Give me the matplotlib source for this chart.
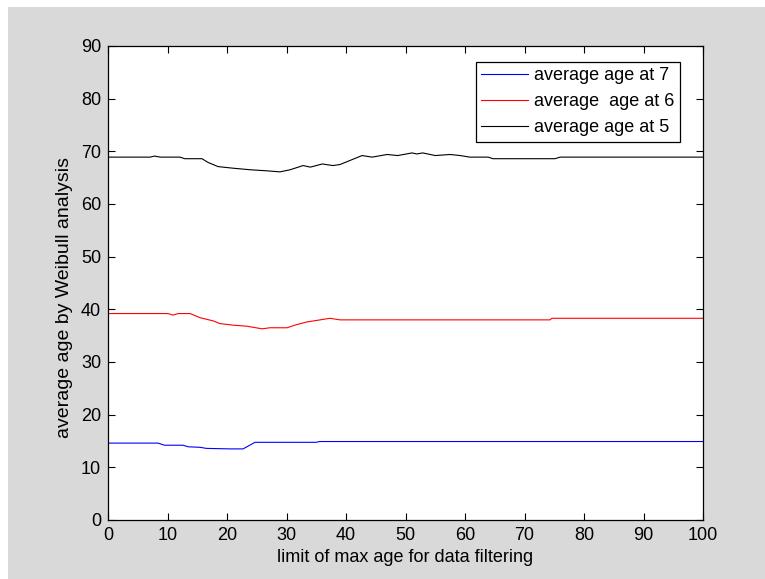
import numpy as np
import matplotlib.pyplot as plt
from matplotlib.patches import Rectangle

plt.rcParams['font.family'] = ['Liberation Sans', 'DejaVu Sans']

# filtering limit (x) and resulting Weibull average ages
x7 = [0, 8.4, 9.5, 12.6, 13.5, 15.5, 16.5, 20.5, 22.7, 24.7, 35, 35.5, 100]
age7 = [14.6, 14.6, 14.2, 14.2, 13.9, 13.8, 13.6, 13.5, 13.5, 14.75, 14.75, 14.9, 14.9]

x6 = [0, 10.1, 10.9, 11.8, 13.8, 15.5, 17.7, 18.8, 21.0, 23.3, 25.9, 27.2, 30.1,
      31.4, 33.4, 35.1, 37.3, 39.0, 74.3, 74.6, 100]
age6 = [39.2, 39.2, 38.9, 39.2, 39.2, 38.4, 37.8, 37.3, 37.0, 36.8, 36.3, 36.5, 36.5,
        37.0, 37.6, 37.9, 38.3, 38.0, 38.0, 38.3, 38.3]

x5 = [0, 7.1, 7.8, 8.8, 12.1, 12.9, 15.8, 16.8, 18.5, 21.0, 23.9, 26.7, 28.9, 30.6,
      32.8, 34.0, 36.0, 37.8, 39.0, 42.7, 44.4, 46.9, 48.7, 51.1, 51.9, 52.9, 55.0,
      57.5, 59.2, 60.8, 63.9, 64.7, 75.1, 76.0, 100]
age5 = [68.9, 68.9, 69.1, 68.9, 68.9, 68.6, 68.6, 67.9, 67.1, 66.8, 66.5, 66.3, 66.1, 66.5,
        67.3, 67.0, 67.6, 67.3, 67.5, 69.2, 68.9, 69.4, 69.2, 69.7, 69.5, 69.7, 69.2,
        69.4, 69.2, 68.9, 68.9, 68.6, 68.6, 68.9, 68.9]

fig = plt.figure(figsize=(7.65, 5.79), dpi=100, facecolor='white')
fig.patches.append(Rectangle((8 / 765, 0), 1, 1 - 7 / 579, transform=fig.transFigure,
                             facecolor='#d9d9d9', edgecolor='none', zorder=-1))

ax = fig.add_axes([108 / 765, 59 / 579, 595 / 765, 474 / 579])
ax.plot(x7, age7, color='blue', lw=0.8, label='average age at 7')
ax.plot(x6, age6, color='red', lw=0.8, label='average  age at 6')
ax.plot(x5, age5, color='black', lw=0.8, label='average age at 5')

ax.set_xlim(0, 100)
ax.set_ylim(0, 90)
ax.set_xticks(np.arange(0, 101, 10))
ax.set_yticks(np.arange(0, 91, 10))
ax.tick_params(direction='in', length=5, width=0.8, top=True, right=True,
               labelsize=13, pad=5)
for s in ax.spines.values():
    s.set_linewidth(0.9)
ax.set_xlabel('limit of max age for data filtering', fontsize=13, labelpad=4)
ax.set_ylabel('average age by Weibull analysis', fontsize=14)
ax.yaxis.set_label_coords(-0.058, 0.47)

# legend box anchored at its top-right corner
leg = ax.legend(loc='upper right', bbox_to_anchor=(572 / 595, 458 / 474),
                borderaxespad=0, fontsize=13, fancybox=False, framealpha=1,
                edgecolor='black', handlelength=2.6, handletextpad=0.35,
                borderpad=0.3, labelspacing=0.5)
leg.get_frame().set_linewidth(0.9)

fig.savefig('out.png', dpi=100)
